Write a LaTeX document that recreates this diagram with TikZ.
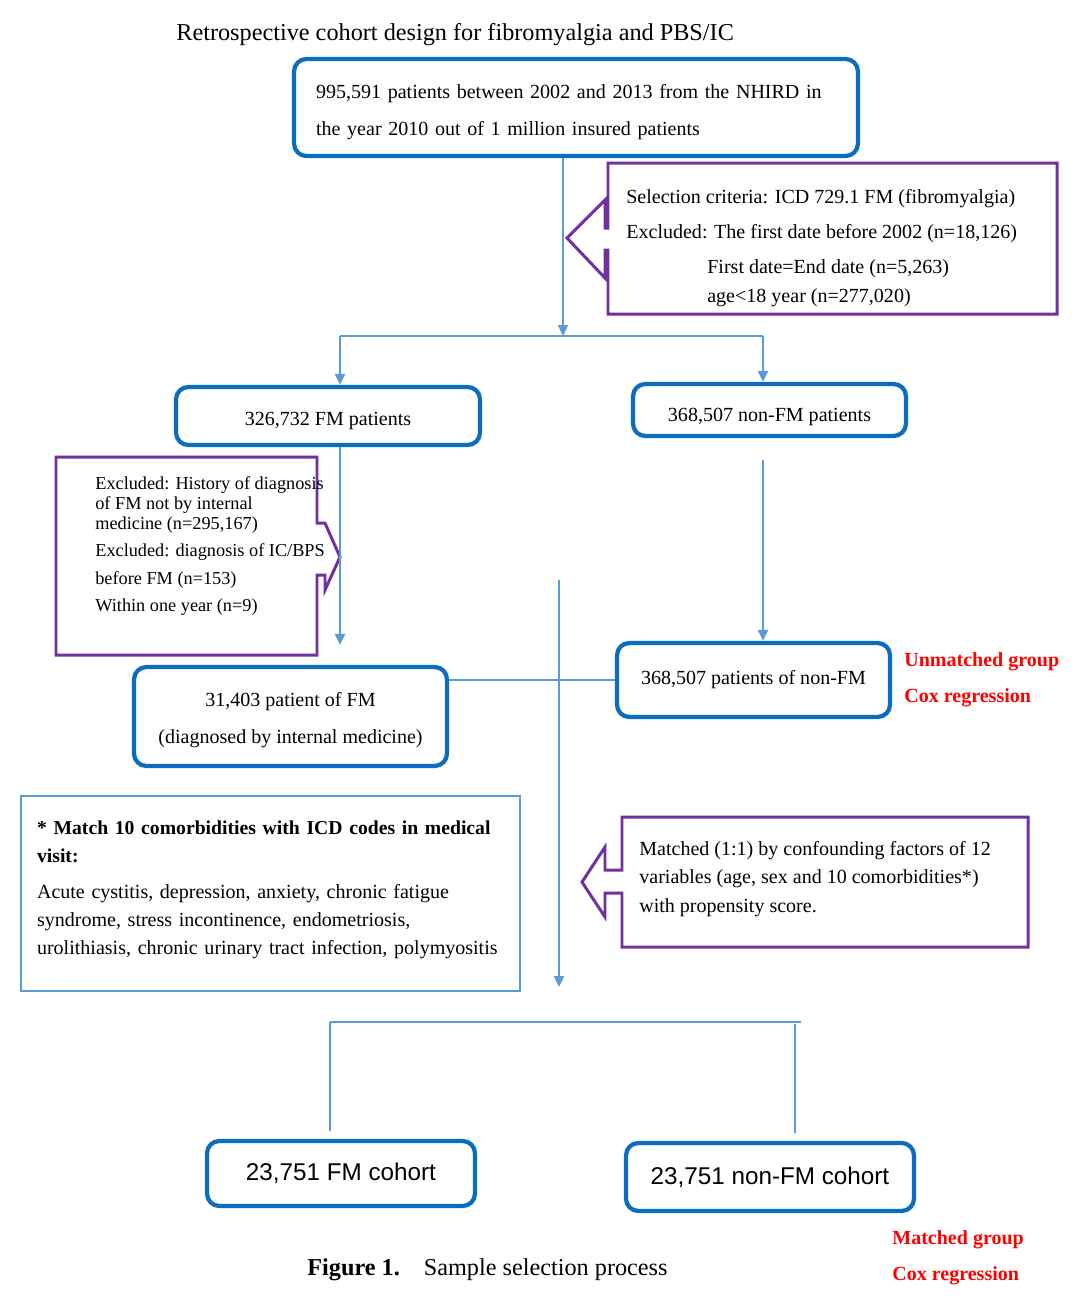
\documentclass[tikz,border=0pt]{standalone}
\usepackage{fontspec}
\setmainfont{Liberation Serif}
\newfontfamily\arialfont{Liberation Sans}
\usetikzlibrary{arrows.meta}
\definecolor{boxblue}{HTML}{0B6CC0}
\definecolor{linkblue}{HTML}{5B9BD5}
\definecolor{calloutpurple}{HTML}{7030A0}
\definecolor{notered}{HTML}{FF0000}

\begin{document}
\begin{tikzpicture}[x=0.02cm,y=-0.02cm,
 bluebox/.style={draw=boxblue, line width=2.4pt, rounded corners=7pt, inner ysep=0pt},
 link/.style={draw=linkblue, line width=1.3pt},
 callout/.style={draw=calloutpurple, line width=1.7pt, line join=miter},
 words/.style={inner sep=0pt, anchor=west, align=left},
 note/.style={words, text=notered, font=\fontsize{11.4}{20.5}\selectfont\bfseries},
 >={Triangle[length=0.22cm,width=0.2cm]}]
\useasboundingbox (0,0) rectangle (1080,1299);

\node[words, font=\fontsize{13.8}{16}\selectfont] (title) at (176,35) {Retrospective cohort design for fibromyalgia and PBS/IC};

\node[bluebox, minimum width=11.28cm, minimum height=1.94cm, inner xsep=0.44cm, text width=10.4cm, text height=13.5pt, align=left, font=\fontsize{11.4}{21}\selectfont] (nhird) at (576,107.5) {995,591 patients between 2002 and 2013 from the NHIRD in\\the year 2010 out of 1 million insured patients};

\draw[callout] (608,163) -- (1057,163) -- (1057,314) -- (608,314) -- (608,250) -- (605,250) -- (605,278) -- (567,238) -- (605,200) -- (605,228) -- (608,228) -- cycle;
\node[words, font=\fontsize{11.4}{19.9}\selectfont] (criteria) at (626,248) {Selection criteria: ICD 729.1 FM (fibromyalgia)\\Excluded: The first date before 2002 (n=18,126)\\\hspace*{1.62cm}First date=End date (n=5,263)\\[-3.4pt]\hspace*{1.62cm}age<18 year (n=277,020)};

\node[bluebox, minimum width=6.08cm, minimum height=1.16cm, text height=13.5pt, font=\fontsize{11.4}{14}\selectfont] (fm) at (328,416) {326,732 FM patients};
\node[bluebox, minimum width=5.46cm, minimum height=1.04cm, text height=15.8pt, font=\fontsize{11.4}{14}\selectfont] (nonfm) at (769.5,410) {368,507 non-FM patients};

\coordinate (fork) at (563,336);
\coordinate (forkl) at (340,336);
\coordinate (forkr) at (763,336);
\draw[link,->] (nhird.south -| fork) -- (fork);
\draw[link] (forkl) -- (forkr);
\draw[link,->] (forkl) -- (forkl |- fm.north);
\draw[link,->] (forkr) -- (forkr |- nonfm.north);

\draw[callout] (56,457) -- (317,457) -- (317,523) -- (325,523) -- (340,557) -- (325,590) -- (325,575) -- (317,575) -- (317,655) -- (56,655) -- cycle;
\node[words, font=\fontsize{10.4}{11.4}\selectfont] (exclfm) at (95,546) {Excluded: History of diagnosis\\of FM not by internal\\medicine (n=295,167)\\[4.3pt]Excluded: diagnosis of IC/BPS\\[4.3pt]before FM (n=153)\\[4.3pt]Within one year (n=9)};

\node[bluebox, minimum width=6.26cm, minimum height=1.98cm, text height=33pt, align=center, font=\fontsize{11.4}{21}\selectfont] (fmim) at (290.5,716.5) {31,403 patient of FM\\(diagnosed by internal medicine)};
\node[bluebox, minimum width=5.46cm, minimum height=1.48cm, font=\fontsize{11.4}{14}\selectfont] (nonfmall) at (753.5,680) {368,507 patients of non-FM};

\draw[link,->,shorten >=0.4cm] (fm.south -| forkl) -- (fmim.north -| forkl);
\draw[link,->,shorten <=0.44cm] (nonfm.south -| forkr) -- (nonfmall.north -| forkr);
\draw[link] (nonfmall.west) -- (nonfmall.west -| fmim.east);

\node[note] (unmatched) at (904,680) {Unmatched group\\Cox regression};

\coordinate (mtop) at (559,580);
\coordinate (mbot) at (559,987);
\draw[link,->] (mtop) -- (mbot);

\node[draw=linkblue, line width=1.1pt, minimum width=9.98cm, minimum height=3.9cm, inner xsep=0.32cm, text width=9.34cm, text height=3.8pt, align=left, font=\fontsize{11.4}{16}\selectfont] (comorb) at (270.5,893.5) {{\fontsize{11.2}{16}\selectfont\bfseries * Match 10 comorbidities with ICD codes in medical\\visit:}\\[4.5pt]Acute cystitis, depression, anxiety, chronic fatigue\\syndrome, stress incontinence, endometriosis,\\urolithiasis, chronic urinary tract infection, polymyositis};

\draw[callout] (622,817) -- (1028,817) -- (1028,947) -- (622,947) -- (622,893) -- (605,893) -- (605,917) -- (582,882) -- (605,847) -- (605,870) -- (622,870) -- cycle;
\node[words, font=\fontsize{11.4}{16.2}\selectfont] (matching) at (639,879) {Matched (1:1) by confounding factors of 12\\variables (age, sex and 10 comorbidities*)\\with propensity score.};

\node[bluebox, minimum width=5.36cm, minimum height=1.3cm, font=\arialfont\fontsize{13.8}{16}\selectfont] (fmcoh) at (341,1173.5) {23,751 FM cohort};
\node[bluebox, minimum width=5.76cm, minimum height=1.36cm, font=\arialfont\fontsize{13.8}{16}\selectfont] (nonfmcoh) at (770,1177) {23,751 non-FM cohort};

\coordinate (joinl) at (330,1022);
\coordinate (joinr) at (801,1022);
\coordinate (joinrv) at (795,1024);
\draw[link] (joinl) -- (joinr);
\draw[link,shorten >=0.16cm] (joinl) -- (joinl |- fmcoh.north);
\draw[link,shorten >=0.16cm] (joinrv) -- (joinrv |- nonfmcoh.north);

\node[note] (matched) at (892,1258) {Matched group\\Cox regression};

\node[words, font=\fontsize{13.8}{16}\selectfont] (caption) at (307,1270) {\textbf{Figure 1.}\hspace{0.48cm}Sample selection process};
\end{tikzpicture}
\end{document}
